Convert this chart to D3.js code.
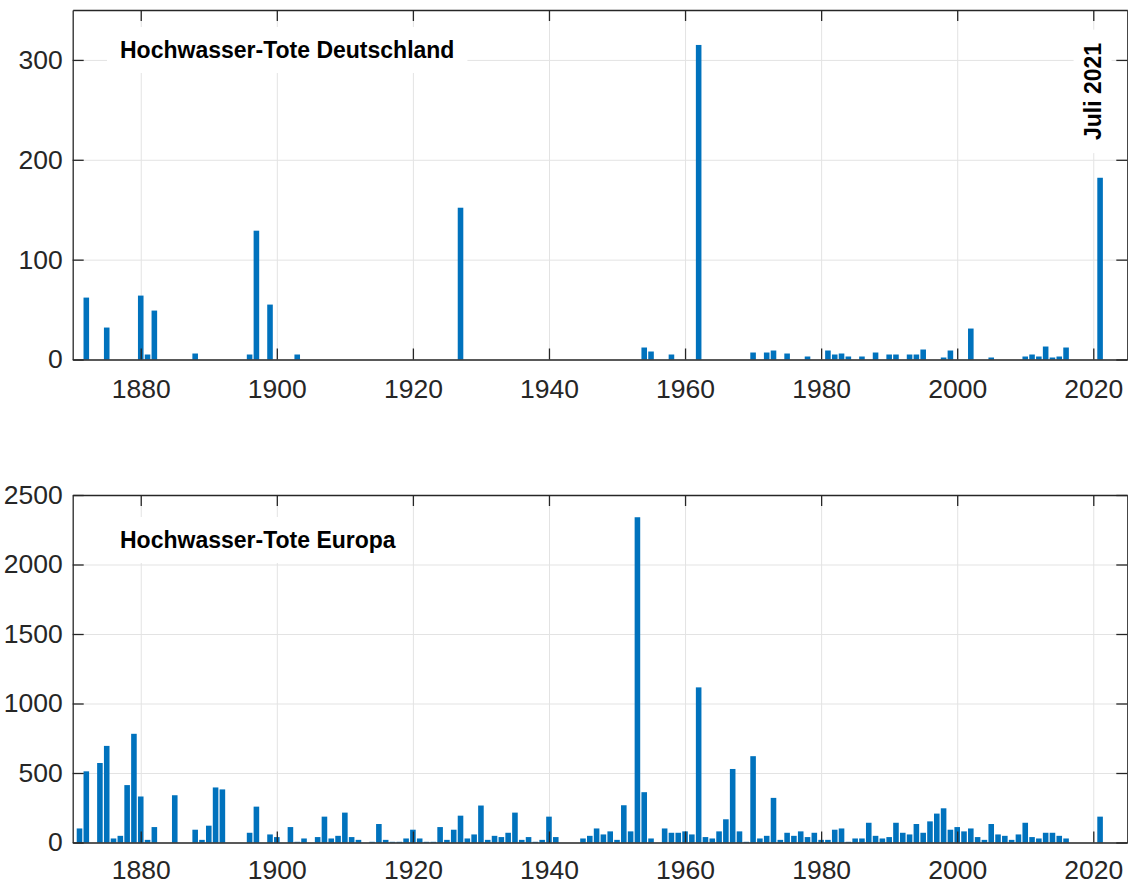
<!DOCTYPE html>
<html>
<head>
<meta charset="utf-8">
<script src="https://cdn.jsdelivr.net/npm/d3@7"></script>
<style>
  body { margin: 0; background: #fff; }
  text { font-family: "Liberation Sans", Arial, sans-serif; }
</style>
</head>
<body>
<div id="chart"></div>
<script>
// Hochwasser-Tote: Deutschland (oben) und Europa (unten)
const deYears  = [1872, 1875, 1880, 1881, 1882, 1888, 1896, 1897, 1899, 1903, 1927,
                  1954, 1955, 1958, 1962, 1970, 1972, 1973, 1975, 1978, 1981, 1982,
                  1983, 1984, 1986, 1988, 1990, 1991, 1993, 1994, 1995, 1998, 1999,
                  2002, 2005, 2010, 2011, 2012, 2013, 2014, 2015, 2016, 2021];
const deDeaths = [62, 32, 64, 5, 49, 6, 5, 129, 55, 5, 152,
                  12, 8, 5, 315, 7, 7, 9, 6, 3, 9, 5,
                  6, 3, 3, 7, 5, 5, 5, 5, 10, 2, 9,
                  31, 2, 3, 5, 3, 13, 2, 3, 12, 182];

const euYears  = [1871, 1872, 1874, 1875, 1876, 1877, 1878, 1879, 1880, 1881, 1882, 1885,
                  1888, 1889, 1890, 1891, 1892, 1896, 1897, 1899, 1900, 1902, 1903, 1904,
                  1906, 1907, 1908, 1909, 1910, 1911, 1912, 1914, 1915, 1916, 1917, 1918,
                  1919, 1920, 1921, 1922, 1923, 1924, 1925, 1926, 1927, 1928, 1929, 1930,
                  1931, 1932, 1933, 1934, 1935, 1936, 1937, 1938, 1939, 1940, 1941, 1945,
                  1946, 1947, 1948, 1949, 1950, 1951, 1952, 1953, 1954, 1955, 1957, 1958,
                  1959, 1960, 1961, 1962, 1963, 1964, 1965, 1966, 1967, 1968, 1969, 1970,
                  1971, 1972, 1973, 1974, 1975, 1976, 1977, 1978, 1979, 1980, 1981, 1982,
                  1983, 1984, 1985, 1986, 1987, 1988, 1989, 1990, 1991, 1992, 1993, 1994,
                  1995, 1996, 1997, 1998, 1999, 2000, 2001, 2002, 2003, 2004, 2005, 2006,
                  2007, 2008, 2009, 2010, 2011, 2012, 2013, 2014, 2015, 2016, 2021];
const euDeaths = [101, 512, 572, 695, 29, 48, 413, 782, 331, 19, 111, 340,
                  92, 19, 121, 396, 382, 70, 258, 58, 39, 111, 5, 29,
                  39, 186, 29, 48, 215, 39, 19, 5, 133, 19, 5, 5,
                  29, 92, 29, 5, 5, 111, 19, 92, 193, 29, 58, 266,
                  19, 48, 39, 70, 215, 19, 39, 5, 19, 186, 39, 29,
                  48, 101, 58, 80, 19, 268, 80, 2340, 362, 29, 101, 70,
                  70, 80, 58, 1116, 39, 29, 80, 167, 529, 80, 5, 621,
                  29, 48, 321, 19, 70, 48, 80, 39, 70, 19, 19, 92,
                  101, 5, 29, 29, 142, 48, 29, 39, 142, 70, 58, 133,
                  70, 152, 208, 246, 92, 111, 80, 101, 39, 19, 133, 58,
                  48, 19, 58, 142, 39, 29, 70, 70, 48, 29, 186];

const xTicks = [1880, 1900, 1920, 1940, 1960, 1980, 2000, 2020];
const deYTicks = [0, 100, 200, 300];
const euYTicks = [0, 500, 1000, 1500, 2000, 2500];
const titles = ["Hochwasser-Tote Deutschland", "Hochwasser-Tote Europa"];
const note = "Juli 2021";

const width = 1128, height = 885;
const left = 72.7, right = 1127.3;
const barColor = "#0072BD", axisColor = "#262626", gridColor = "#e3e3e3";

let svg = d3.select("#chart").append("svg")
    .attr("width", width)
    .attr("height", height);

let x = d3.scaleLinear().domain([1870, 2025]).range([left, right]);
let barW = (x(1) - x(0)) * 0.82;

// white box behind a text node
function boxBehind(parent, textSel, padX, padY) {
    let bb = textSel.node().getBBox();
    parent.insert("rect", () => textSel.node())
        .attr("x", bb.x - padX).attr("y", bb.y - padY)
        .attr("width", bb.width + 2 * padX).attr("height", bb.height + 2 * padY)
        .attr("fill", "#fff");
}

function drawPanel(top, bottom, yMax, yTicks, years, values, title, titleY, xPad) {
    let y = d3.scaleLinear().domain([0, yMax]).range([bottom, top]);
    let g = svg.append("g");

    // grid
    g.append("g").attr("transform", "translate(0," + bottom + ")")
        .call(d3.axisBottom(x).tickValues(xTicks).tickSize(-(bottom - top)).tickFormat(""))
        .call(a => a.select(".domain").remove())
        .selectAll("line").attr("stroke", gridColor);
    g.append("g").attr("transform", "translate(" + left + ",0)")
        .call(d3.axisLeft(y).tickValues(yTicks).tickSize(-(right - left)).tickFormat(""))
        .call(a => a.select(".domain").remove())
        .selectAll("line").attr("stroke", gridColor);

    // title with white box
    let t = g.append("text")
        .attr("x", 120).attr("y", titleY)
        .style("font-size", "23px").style("font-weight", "bold")
        .style("fill", "#000")
        .text(title);
    boxBehind(g, t, 13, 10);

    // bars
    g.selectAll("rect.bar").data(years).enter().append("rect")
        .attr("class", "bar")
        .attr("x", d => x(d) - barW / 2)
        .attr("width", barW)
        .attr("y", (d, i) => y(values[i]))
        .attr("height", (d, i) => bottom - y(values[i]))
        .attr("fill", barColor);

    // axes box with inward ticks
    let fmt = d3.format("d");
    let axes = [
        g.append("g").attr("transform", "translate(0," + bottom + ")")
            .call(d3.axisBottom(x).tickValues(xTicks).tickSize(-11).tickSizeOuter(0).tickPadding(xPad).tickFormat(fmt)),
        g.append("g").attr("transform", "translate(0," + top + ")")
            .call(d3.axisTop(x).tickValues(xTicks).tickSize(-11).tickSizeOuter(0).tickFormat("")),
        g.append("g").attr("transform", "translate(" + left + ",0)")
            .call(d3.axisLeft(y).tickValues(yTicks).tickSize(-11).tickSizeOuter(0).tickPadding(10).tickFormat(fmt)),
        g.append("g").attr("transform", "translate(" + right + ",0)")
            .call(d3.axisRight(y).tickValues(yTicks).tickSize(-11).tickSizeOuter(0).tickFormat(""))
    ];
    axes.forEach(a => {
        a.select(".domain").attr("stroke", axisColor).attr("stroke-width", 1.3);
        a.selectAll("line").attr("stroke", axisColor).attr("stroke-width", 1.3);
        a.selectAll("text")
            .style("font-family", "'Liberation Sans', Arial, sans-serif")
            .style("font-size", "26.5px")
            .attr("fill", axisColor);
    });
    return y;
}

drawPanel(10, 359.5, 350, deYTicks, deYears, deDeaths, titles[0], 58, 20);
drawPanel(495, 842.5, 2500, euYTicks, euYears, euDeaths, titles[1], 548, 17.5);

// annotation for July 2021
let ann = svg.append("g").attr("transform", "translate(" + (x(2021) + 0.5) + ",91.5) rotate(-90)");
let at = ann.append("text")
    .attr("text-anchor", "middle")
    .style("font-size", "23px").style("font-weight", "bold")
    .style("fill", "#000")
    .text(note);
boxBehind(ann, at, 13, 6);
</script>
</body>
</html>
